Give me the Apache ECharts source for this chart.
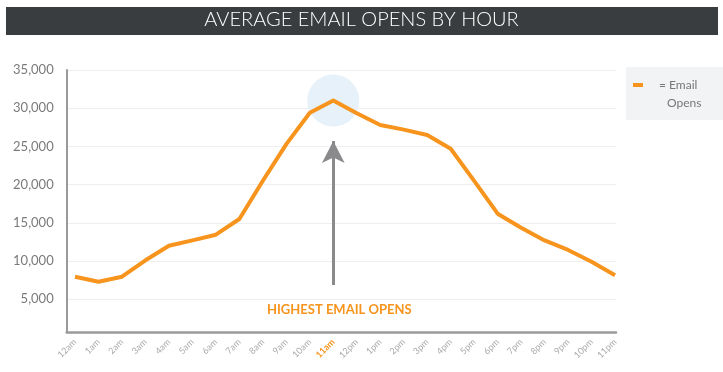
<!DOCTYPE html>
<html><head><meta charset="utf-8">
<script src="https://cdn.jsdelivr.net/npm/echarts@6/dist/echarts.min.js"></script>
<style>html,body{margin:0;padding:0;background:#fff}#c{width:723px;height:372px}</style>
</head><body><div id="c"></div>
<script>
const hours = ['12am','1am','2am','3am','4am','5am','6am','7am','8am','9am','10am','11am',
               '12pm','1pm','2pm','3pm','4pm','5pm','6pm','7pm','8pm','9pm','10pm','11pm'];
const opens = [7950, 7300, 7950, 10100, 12000, 12700, 13450, 15500, 20500, 25300, 29400, 31000,
               29350, 27800, 27200, 26500, 24700, 20500, 16200, 14350, 12700, 11450, 9900, 8150];
const yTicks = [5000, 10000, 15000, 20000, 25000, 30000, 35000];
const highlightHour = '11am';
const annotationText = 'HIGHEST EMAIL OPENS';
const arrowFrom = 6870;
const arrowTo = 25700;
const titleText = 'AVERAGE EMAIL OPENS BY HOUR';
const seriesName = 'Email Opens';

const ORANGE = '#f7941d';
const hiIdx = hours.indexOf(highlightHour);
const xIdx = hours.map((h, i) => i);

const chart = echarts.init(document.getElementById('c'), null, {renderer: 'canvas'});
chart.setOption({
  backgroundColor: '#fff',
  animation: false,
  textStyle: {fontFamily: 'Lato'},
  graphic: [
    {type: 'rect', left: 6, top: 7, shape: {width: 712, height: 28}, style: {fill: '#3a3d3f'}, z: -1},
    {type: 'rect', left: 626, top: 67, shape: {width: 97, height: 53}, style: {fill: '#f2f3f5'}, z: -1}
  ],
  title: {
    text: titleText, left: 'center', top: 10, padding: 0,
    textStyle: {color: '#fff', fontSize: 20, fontWeight: 300, fontFamily: 'Lato'}
  },
  legend: {
    data: [seriesName], left: 633, top: 58, padding: 0,
    icon: 'rect', itemWidth: 10, itemHeight: 4,
    formatter: () => '{a|= Email}\n{b|Opens}',
    textStyle: {
      color: '#777', fontSize: 12, fontFamily: 'Lato', lineHeight: 18, padding: [18, 0, 0, 11],
      rich: {a: {color: '#777', fontSize: 12, lineHeight: 18}, b: {color: '#777', fontSize: 12, lineHeight: 18, padding: [0, 0, 0, 8]}}
    }
  },
  grid: {left: 66.7, right: 107, top: 70, bottom: 39.5, containLabel: false},
  xAxis: {
    type: 'value', min: -0.354, max: 23.04,
    axisLine: {show: true, onZero: false, lineStyle: {color: '#9a9a9a', width: 2.5}},
    axisTick: {show: false, customValues: xIdx},
    splitLine: {show: false},
    axisLabel: {
      customValues: xIdx, rotate: 45, fontSize: 9, color: '#aaa', margin: 8,
      formatter: v => (v === hiIdx ? '{hi|' + hours[v] + '}' : hours[v]),
      rich: {hi: {color: ORANGE, fontWeight: 'bold', fontSize: 9}}
    }
  },
  yAxis: {
    type: 'value', min: 650, max: 35000,
    axisLine: {show: true, onZero: false, lineStyle: {color: '#9a9a9a', width: 2}},
    axisTick: {show: false, customValues: yTicks},
    splitLine: {show: true, lineStyle: {color: '#eeeeee', width: 1}},
    axisLabel: {
      customValues: yTicks, color: '#7a7a7a', fontSize: 13, margin: 13,
      formatter: v => v.toLocaleString('en-US')
    }
  },
  series: [{
    name: seriesName, type: 'line', z: 3,
    data: opens.map((v, i) => [i, v]),
    showSymbol: false, symbol: 'none',
    lineStyle: {color: ORANGE, width: 4, join: 'round'},
    itemStyle: {color: ORANGE},
    markPoint: {
      z: 1, silent: true, symbol: 'circle', symbolSize: 52,
      itemStyle: {color: '#e6f1fa'},
      label: {show: false},
      data: [{type: 'max'}]
    },
    markLine: {
      silent: true, symbol: ['none', 'arrow'],
      lineStyle: {color: '#8a8a8c', width: 3, type: 'solid'},
      label: {
        show: true, position: 'start', formatter: annotationText, distance: 18,
        color: ORANGE, fontWeight: 'bold', fontSize: 13, fontFamily: 'Lato', padding: [0, 0, 0, 12]
      },
      data: [[{coord: [hiIdx, arrowFrom], symbol: 'none'}, {coord: [hiIdx, arrowTo], symbol: 'arrow', symbolSize: [17, 22]}]]
    }
  }]
});
</script></body></html>
